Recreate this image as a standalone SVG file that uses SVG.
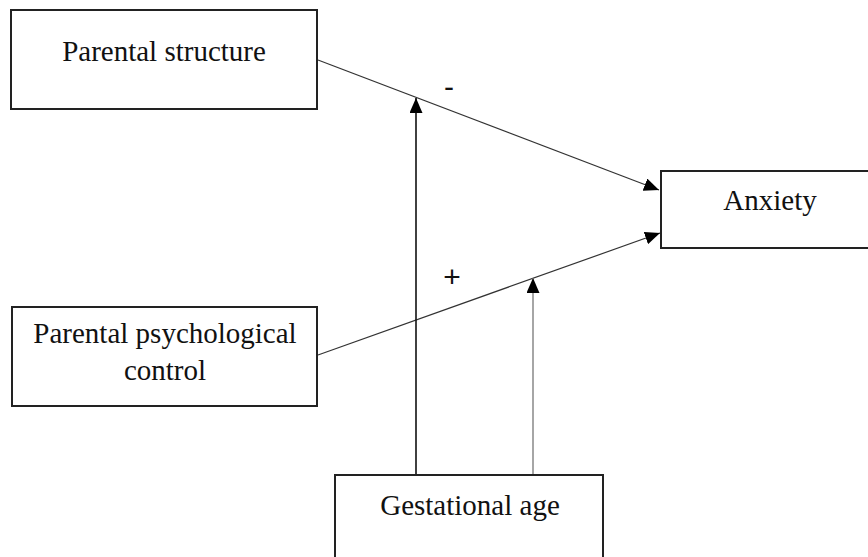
<svg xmlns="http://www.w3.org/2000/svg" width="868" height="557" viewBox="0 0 868 557">
<style>
.box{fill:#fff;stroke:#222;stroke-width:2}
.lbl{font-family:"Liberation Serif","Times New Roman",serif;font-size:29px;fill:#111;text-anchor:middle}
.sign{font-family:"Liberation Sans",Arial,sans-serif;font-size:30px;fill:#111;text-anchor:middle}
.ln{fill:none;stroke:#333;stroke-width:1.2}
.ln2{fill:none;stroke:#888;stroke-width:1.5}
.v{fill:none;stroke:#111;stroke-width:1.6}
</style>
<defs>
<marker id="ah" viewBox="0 0 15 13" refX="15" refY="6.5" markerWidth="15" markerHeight="13" markerUnits="userSpaceOnUse" orient="auto">
<path d="M0,0 L15,6.5 L0,13 Z" fill="#000"/>
</marker>
</defs>
<rect width="868" height="557" fill="#fff"/>
<g id="connectors">
<line class="ln" x1="318" y1="60" x2="659" y2="190" marker-end="url(#ah)"/>
<line class="ln" x1="318" y1="355" x2="660" y2="233" marker-end="url(#ah)"/>
<line class="v" x1="416" y1="475" x2="416" y2="98" marker-end="url(#ah)"/>
<line class="ln2" x1="533" y1="475" x2="533" y2="278" marker-end="url(#ah)"/>
<text class="sign" x="449" y="97">-</text>
<text class="sign" x="452" y="287">+</text>
</g>
<g id="parental-structure">
<rect class="box" x="11" y="10" width="306" height="99"/>
<text class="lbl" x="164" y="61">Parental structure</text>
</g>
<g id="parental-psychological-control">
<rect class="box" x="12" y="307" width="305" height="99"/>
<text class="lbl" x="165" y="343">Parental psychological</text>
<text class="lbl" x="165" y="380">control</text>
</g>
<g id="anxiety">
<rect class="box" x="661" y="171" width="210" height="77"/>
<text class="lbl" x="770" y="210">Anxiety</text>
</g>
<g id="gestational-age">
<rect class="box" x="335" y="475" width="268" height="90"/>
<text class="lbl" x="470" y="515">Gestational age</text>
</g>
</svg>
